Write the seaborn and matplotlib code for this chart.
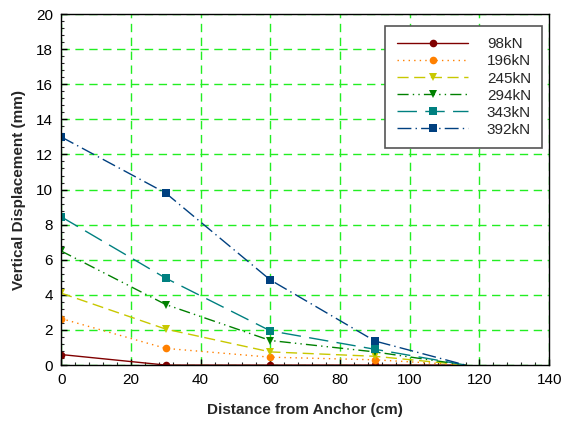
import numpy as np
import pandas as pd
import matplotlib
matplotlib.use('Agg')
import matplotlib.pyplot as plt
import seaborn as sns
from matplotlib.ticker import MultipleLocator

# distance from anchor (cm) and displacement (mm) per load
distance = [0, 30, 60, 90, 116]
loads = ['98kN', '196kN', '245kN', '294kN', '343kN', '392kN']
d98 = [0.6, 0.0, 0.0, 0.0, 0.0]
d196 = [2.65, 0.95, 0.45, 0.3, 0.0]
d245 = [4.1, 2.05, 0.75, 0.5, 0.0]
d294 = [6.5, 3.45, 1.4, 0.75, 0.0]
d343 = [8.45, 4.95, 1.95, 0.9, 0.0]
d392 = [13.0, 9.8, 4.85, 1.37, 0.0]

series = [d98, d196, d245, d294, d343, d392]
colors = ['#800000', '#ff8000', '#c8c800', '#008000', '#008080', '#004080']
markers = ['o', 'o', 'v', 'v', 's', 's']
dashes = ['-', (0, (1, 3)), (0, (8, 4)), (0, (8, 3, 1, 3, 1, 3)), (0, (14, 6)), (0, (10, 3, 1, 3))]

sns.set_style('ticks')
plt.rcParams['font.family'] = ['Liberation Sans', 'DejaVu Sans']

fig = plt.figure(figsize=(5.61, 4.25), dpi=100)
ax = fig.add_axes([0.109, 0.141, 0.870, 0.826])

for name, vals, c, m, ls in zip(loads, series, colors, markers, dashes):
    df = pd.DataFrame({'x': distance, 'y': vals})
    sns.lineplot(data=df, x='x', y='y', ax=ax, color=c, marker=m, markersize=5.5,
                 markeredgewidth=0, linewidth=1, label=name, markevery=[0, 1, 2, 3])
    ax.lines[-1].set_linestyle(ls)

ax.set_xlim(0, 140)
ax.set_ylim(0, 20)
ax.xaxis.set_major_locator(MultipleLocator(20))
ax.xaxis.set_minor_locator(MultipleLocator(4))
ax.yaxis.set_major_locator(MultipleLocator(2))
ax.yaxis.set_minor_locator(MultipleLocator(0.4))
ax.tick_params(which='major', direction='in', length=4, width=1, labelsize=11,
               colors='black', pad=6)
ax.tick_params(which='minor', direction='in', length=2.5, width=0.8)
ax.grid(True, which='major', color='#22ee22', linestyle=(0, (6, 4)), linewidth=1)
ax.set_axisbelow(True)
for s in ax.spines.values():
    s.set_linewidth(1)
    s.set_color('black')

ax.set_xlabel('Distance from Anchor (cm)', fontsize=11, fontweight='bold', labelpad=11)
ax.set_ylabel('Vertical Displacement (mm)', fontsize=11, fontweight='bold', labelpad=7)

leg = ax.legend(loc='upper right', bbox_to_anchor=(0.986, 0.966), fontsize=11,
                frameon=True, fancybox=False, edgecolor='#555555', framealpha=1,
                handlelength=4.7, markerfirst=True, labelspacing=0.2, borderpad=0.75,
                handletextpad=1.2, borderaxespad=0)
leg.get_frame().set_linewidth(1.2)

fig.savefig('out.png', dpi=100)
